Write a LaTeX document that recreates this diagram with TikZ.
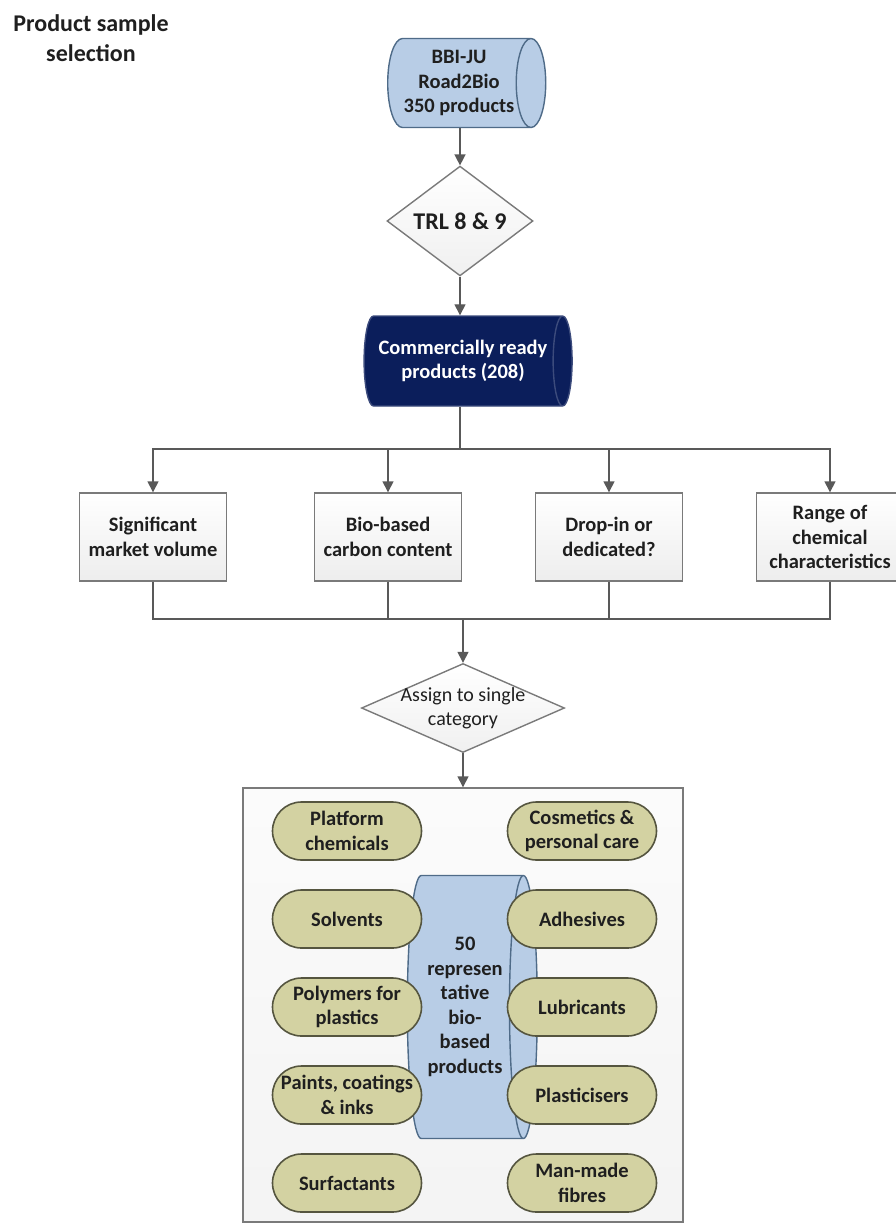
\documentclass[tikz,border=0pt]{standalone}
\usepackage{fontspec}
\setmainfont{Carlito}
\usetikzlibrary{shapes.geometric,shapes.misc,arrows.meta}
\definecolor{lineg}{HTML}{595959}
\definecolor{boxg}{HTML}{7A7A7A}
\definecolor{dbf}{HTML}{B8CDE6}
\definecolor{dbb}{HTML}{4F6B88}
\definecolor{navy}{HTML}{0B1E5B}
\definecolor{pillf}{HTML}{D3D2A2}
\definecolor{pillb}{HTML}{55553F}

\begin{document}
\begin{tikzpicture}[x=1pt,y=-1pt,
every node/.style={font=\bfseries\fontsize{20.5}{24.5}\selectfont,align=center,text=black!88},
box/.style={rectangle,draw=boxg,line width=1.4pt,top color=white,bottom color=gray!14,minimum width=147pt,minimum height=88pt,inner sep=0pt},
dec/.style={diamond,draw=boxg,line width=1.4pt,top color=white,bottom color=gray!12,inner sep=0pt},
pill/.style={rounded rectangle,draw=pillb,line width=1.6pt,fill=pillf,minimum width=149pt,minimum height=58pt,inner sep=0pt},
db/.style={cylinder,draw=dbb,line width=1.4pt,fill=dbf,inner sep=0pt},
con/.style={draw=lineg,line width=1.4pt},
arr/.style={con,-{Triangle[length=11pt,width=11pt]}}]
\useasboundingbox (0,0) rectangle (895,1224);

% title
\node[font=\bfseries\fontsize{24}{30}\selectfont] (title) at (91,38) {Product sample\\selection};

% top of the flow (cylinder: minimum height runs along its axis)
\node[db,minimum height=158pt,minimum width=89pt,shape aspect=0.45] (road) at (459,83) {BBI-JU\\Road2Bio\\350 products};
\node[dec,minimum width=146pt,minimum height=87pt,font=\bfseries\fontsize{24}{28}\selectfont] (trl) at (460,221) {TRL 8 \& 9};
\node[db,minimum height=208pt,minimum width=90pt,shape aspect=0.45,fill=navy,draw=navy!80!white,text=white] (ready) at (463,361) {Commercially ready\\products (208)};
\draw[arr] (trl |- road.south) -- (trl);
\draw[arr] (trl) -- (trl |- ready.north);

% criteria
\coordinate (split) at (460,449);
\coordinate (join) at (463,619);
\node[box] (volume) at (153,537) {Significant\\market volume};
\node[box] (carbon) at (388,537) {Bio-based\\carbon content};
\node[box] (dropin) at (609,537) {Drop-in or\\dedicated?};
\node[box] (range) at (830,537) {Range of\\chemical\\characteristics};
\draw[con] (split |- ready.south) -- (split);
\draw[arr] (split) -| (volume);
\draw[arr] (split) -| (carbon);
\draw[arr] (split) -| (dropin);
\draw[arr] (split) -| (range);
\draw[con] (volume) |- (join);
\draw[con] (carbon) |- (join);
\draw[con] (dropin) |- (join);
\draw[con] (range) |- (join);

\node[dec,minimum width=203pt,minimum height=89pt,label={[font=\fontsize{20}{24}\selectfont,align=center]center:Assign to single\\category}] (assign) at (463,708) {};
\draw[arr] (join) -- (assign);

% categories
\node[rectangle,draw=boxg,line width=1.4pt,top color=gray!3,bottom color=gray!9,minimum width=440pt,minimum height=434pt,inner sep=0pt] (group) at (463,1005) {};
\draw[arr] (assign) -- (group);
\node[db,minimum height=130pt,minimum width=263pt,shape aspect=0.2] (rep) at (465,1007) {50\\represen\\tative\\bio-\\based\\products};

\node[pill] (plat) at (347,831) {Platform\\chemicals};
\node[pill] (solv) at (347,919) {Solvents};
\node[pill] (poly) at (347,1007) {Polymers for\\plastics};
\node[pill] (pain) at (347,1095) {Paints, coatings\\\& inks};
\node[pill] (surf) at (347,1183) {Surfactants};
\node[pill] (cosm) at (582,831) {Cosmetics \&\\personal care};
\node[pill] (adhe) at (582,919) {Adhesives};
\node[pill] (lubr) at (582,1007) {Lubricants};
\node[pill] (plas) at (582,1095) {Plasticisers};
\node[pill] (fibr) at (582,1183) {Man-made\\fibres};
\end{tikzpicture}
\end{document}
